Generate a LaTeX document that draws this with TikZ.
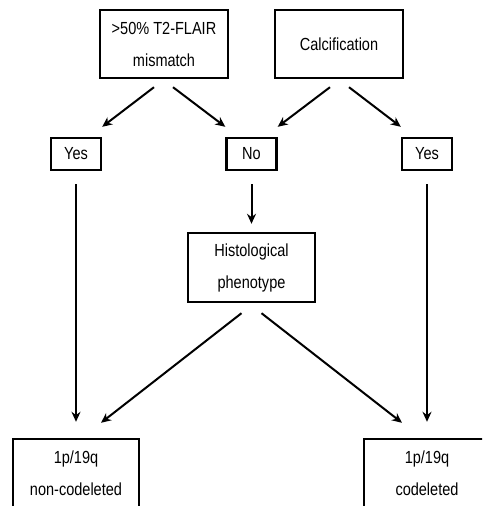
\documentclass[tikz,border=0pt]{standalone}
\usepackage{fontspec}
\setmainfont{Liberation Sans}[FakeStretch=0.83]
\usetikzlibrary{arrows.meta,positioning}

\begin{document}
\begin{tikzpicture}[x=1pt,y=-1pt,->,>={Stealth[length=10pt,width=9pt]},line width=2pt]
                \tikzstyle{every node}=[font=\fontsize{17.5}{32}\selectfont]
                \tikzstyle{criterion}=[draw, line width=2.4pt, minimum width=128pt, minimum height=68pt, align=center]
                \tikzstyle{answer}=[draw, line width=2.4pt, minimum width=50pt, minimum height=32pt]
                \tikzstyle{outcome}=[draw, line width=2.4pt, minimum width=126pt, minimum height=69pt, align=center]

                \clip (0,0) rectangle (482,506);

                \node[criterion] at (164,44) (flair) {>50\% T2-FLAIR\\mismatch};
                \node[criterion] at (339,44) (calc) {Calcification};

                \node[answer] at (76,154) (yes-l) {Yes};
                \node[answer] at (251.5,154) (no) {No};
                \node[answer] at (427,154) (yes-r) {Yes};

                \node[criterion, minimum width=127pt, minimum height=69pt] at (251.5,267.5) (hist) {Histological\\phenotype};

                \node[outcome] at (76,473.5) (noncodel) {1p/19q\\non-codeleted};
                \node[outcome] at (427,473.5) (codel) {1p/19q\\codeleted};

                \draw ([xshift=-10pt,yshift=-8pt]flair.south) -- ([yshift=10pt]yes-l.north east);
                \draw ([xshift=9pt,yshift=-8pt]flair.south) -- ([yshift=10pt]no.north west);
                \draw ([xshift=-9pt,yshift=-8pt]calc.south) -- ([yshift=10pt]no.north east);
                \draw ([xshift=10pt,yshift=-8pt]calc.south) -- ([yshift=10pt]yes-r.north west);
                \draw ([yshift=-13pt]no.south) -- ([yshift=8pt]hist.north);
                \draw ([yshift=-13pt]yes-l.south) -- ([yshift=16pt]noncodel.north);
                \draw ([yshift=-13pt]yes-r.south) -- ([yshift=16pt]codel.north);
                \draw ([xshift=-10pt,yshift=-10pt]hist.south) -- ([xshift=25pt,yshift=15pt]noncodel.north);
                \draw ([xshift=10pt,yshift=-10pt]hist.south) -- ([xshift=-25pt,yshift=15pt]codel.north);
\end{tikzpicture}
\end{document}
